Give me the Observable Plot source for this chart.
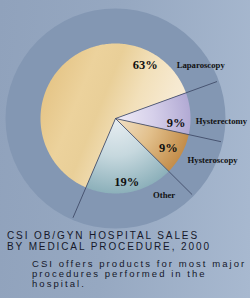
<!DOCTYPE html>
<html><head><meta charset="utf-8">
<script src="https://cdn.jsdelivr.net/npm/d3@7"></script>
<script src="https://cdn.jsdelivr.net/npm/@observablehq/plot@0.6"></script>
<style>
body{margin:0;}
#wrap{width:250px;height:298px;position:relative;overflow:hidden;
  background:linear-gradient(95deg,#90a2bc 0%,#96a8c1 45%,#a8b9d0 100%);
  font-family:"Liberation Sans",Arial,sans-serif;color:#15182a;}
#chart svg{display:block;}
.title{margin:0 0 0 7px;font-size:10px;line-height:11px;letter-spacing:1.9px;white-space:nowrap;}
.sub{margin:6.5px 0 0 32px;font-size:9.5px;line-height:10px;letter-spacing:2.05px;white-space:nowrap;}
</style></head>
<body>
<div id="wrap">
  <div id="chart"></div>
  <div class="title">CSI OB/GYN HOSPITAL SALES<br>BY MEDICAL PROCEDURE, 2000</div>
  <div class="sub">CSI offers products for most major<br>procedures performed in the<br>hospital.</div>
</div>
<script>
// ---- data ----
const categories = ["Laparoscopy", "Hysterectomy", "Hysteroscopy", "Other"];
const shares = [63, 9, 9, 19];
const pctLabels = ["63%", "9%", "9%", "19%"];

// ---- layout (not data) ----
const deg = Math.PI / 180;
const firstSmallStart = 70;           // deg clockwise from north where Hysterectomy begins
const leaderR = 1.44;                 // leader line length (pie radius = 1)
const pctPlace = {Laparoscopy: [29, 0.82], Hysterectomy: [94, 0.81], Hysteroscopy: [119.5, 0.81], Other: [170, 0.86]};
const namePlace = {Laparoscopy: [49, 1.08], Hysterectomy: [92, 1.07], Hysteroscopy: [120, 1.11], Other: [154, 1.14]};
const gradIds = {Laparoscopy: "gLap", Hysterectomy: "gHy", Hysteroscopy: "gHs", Other: "gOth"};

const data = categories.map((c, i) => ({category: c, value: shares[i], pct: pctLabels[i]}));
const total = d3.sum(shares);
const start = (firstSmallStart - shares[0] / total * 360) * deg;
const arcs = d3.pie().value(d => d.value).sort(null).startAngle(start).endAngle(start + 2 * Math.PI)(data);

const polys = arcs.map(a => {
  const n = Math.max(2, Math.ceil((a.endAngle - a.startAngle) / deg));
  const pts = [{x: 0, y: 0}];
  for (let k = 0; k <= n; k++) {
    const t = a.startAngle + (a.endAngle - a.startAngle) * k / n;
    pts.push({x: Math.sin(t), y: Math.cos(t)});
  }
  return {category: a.data.category, pts};
});

const polar = (ang, r) => ({x: r * Math.sin(ang * deg), y: r * Math.cos(ang * deg)});
const pctData = data.map(d => ({...d, ...polar(...pctPlace[d.category])}));
const nameData = data.map(d => ({...d, ...polar(...namePlace[d.category])}));

const plot = Plot.plot({
  width: 250, height: 230,
  margin: 0,
  x: {domain: [-115 / 75, 135 / 75], axis: null},
  y: {domain: [-112 / 75, 118 / 75], axis: null},
  style: {background: "transparent", overflow: "visible"},
  marks: [
    Plot.dot([{x: 0, y: 0}], {x: "x", y: "y", r: 110, fill: "#8397b3", stroke: "none"}),
    ...polys.map(p => Plot.line(p.pts, {x: "x", y: "y", curve: "linear-closed",
        fill: `url(#${gradIds[p.category]})`, stroke: "none"})),
    Plot.link(arcs, {x1: 0, y1: 0,
        x2: a => leaderR * Math.sin(a.startAngle), y2: a => leaderR * Math.cos(a.startAngle),
        stroke: "#384260", strokeWidth: 0.8}),
    Plot.text(pctData, {x: "x", y: "y", text: "pct", fontFamily: "Liberation Serif",
        fontWeight: "bold", fontSize: 12.5, fill: "#111"}),
    Plot.text(nameData, {x: "x", y: "y", text: "category", textAnchor: "start",
        fontFamily: "Liberation Serif", fontWeight: "bold", fontSize: 8.7, fill: "#111"})
  ]
});

// gradients for slice fills, positioned through the plot's scales
const cx = plot.scale("x").apply(0), cy = plot.scale("y").apply(0);
const rpx = plot.scale("x").apply(1) - cx;
const svgNS = "http://www.w3.org/2000/svg";
const defs = document.createElementNS(svgNS, "defs");
function grad(tag, id, attrs, stops) {
  const g = document.createElementNS(svgNS, tag);
  g.setAttribute("id", id);
  for (const [k, v] of Object.entries(attrs)) g.setAttribute(k, v);
  for (const [o, c] of stops) {
    const s = document.createElementNS(svgNS, "stop");
    s.setAttribute("offset", o); s.setAttribute("stop-color", c);
    g.appendChild(s);
  }
  defs.appendChild(g);
}
grad("linearGradient", "gLap", {x1: "0", y1: "0.3", x2: "1", y2: "0.7"},
  [[0, "#e4c384"], [0.25, "#ecd29c"], [0.4, "#e9cf98"], [0.6, "#f2e0ba"], [0.8, "#f6e9d0"], [1, "#f9f0de"]]);
const radial = {gradientUnits: "userSpaceOnUse", cx, cy, r: rpx, fx: cx, fy: cy};
grad("radialGradient", "gHy", radial, [[0, "#efecf6"], [0.5, "#d6d0ea"], [1, "#b2aad4"]]);
grad("radialGradient", "gHs", radial, [[0, "#f2e2c8"], [0.5, "#e2c08c"], [1, "#c38d4a"]]);
grad("radialGradient", "gOth", radial, [[0, "#e8eef2"], [0.5, "#c6d8de"], [1, "#8cb0ba"]]);
plot.insertBefore(defs, plot.firstChild);

document.getElementById("chart").appendChild(plot);
</script>
</body></html>
